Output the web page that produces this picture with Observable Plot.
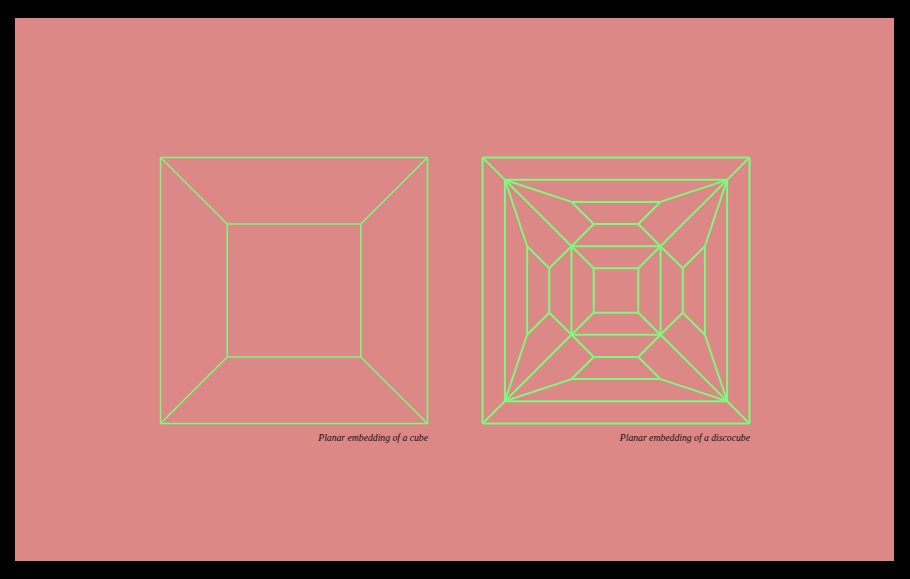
<!DOCTYPE html>
<html>
<head>
<meta charset="utf-8">
<script src="https://cdn.jsdelivr.net/npm/d3@7"></script>
<script src="https://cdn.jsdelivr.net/npm/@observablehq/plot@0.6"></script>
<style>
  html, body { margin: 0; padding: 0; background: #000; width: 910px; height: 579px; overflow: hidden; }
  #chart { position: absolute; left: 14.5px; top: 18px; width: 879px; height: 543px; }
</style>
</head>
<body>
<div id="chart"></div>
<script>
// Graph names and captions
const graphs = ["cube", "discocube"];
const captions = ["Planar embedding of a cube", "Planar embedding of a discocube"];

// Cube vertices (unit coordinates) and edges
const cubeVertices = [
  [-1, -1], [1, -1], [1, 1], [-1, 1],
  [-0.5, -0.5], [0.5, -0.5], [0.5, 0.5], [-0.5, 0.5]
];
const cubeEdges = [
  [0, 1], [1, 2], [2, 3], [3, 0],
  [4, 5], [5, 6], [6, 7], [7, 4],
  [0, 4], [1, 5], [2, 6], [3, 7]
];

// Discocube vertices (unit coordinates) and edges
const discoVertices = [
  [-1, 1], [1, 1], [1, -1], [-1, -1],                       // 0-3 outer
  [-0.832, 0.832], [0.832, 0.832], [0.832, -0.832], [-0.832, -0.832], // 4-7 second
  [-0.333, 0.333], [0.333, 0.333], [0.333, -0.333], [-0.333, -0.333], // 8-11 middle
  [-0.167, 0.167], [0.167, 0.167], [0.167, -0.167], [-0.167, -0.167], // 12-15 inner
  [-0.333, 0.666], [0.333, 0.666], [-0.167, 0.5], [0.167, 0.5],       // 16-19 top trapezoid
  [0.666, 0.333], [0.666, -0.333], [0.5, 0.167], [0.5, -0.167],       // 20-23 right trapezoid
  [0.333, -0.666], [-0.333, -0.666], [0.167, -0.5], [-0.167, -0.5],   // 24-27 bottom trapezoid
  [-0.666, -0.333], [-0.666, 0.333], [-0.5, -0.167], [-0.5, 0.167]    // 28-31 left trapezoid
];
const discoEdges = [
  [0, 1], [1, 2], [2, 3], [3, 0],
  [0, 4], [1, 5], [2, 6], [3, 7],
  [4, 5], [5, 6], [6, 7], [7, 4],
  [4, 8], [5, 9], [6, 10], [7, 11],
  [8, 9], [9, 10], [10, 11], [11, 8],
  [8, 12], [9, 13], [10, 14], [11, 15],
  [12, 13], [13, 14], [14, 15], [15, 12],
  [16, 17], [16, 18], [17, 19], [18, 19], [4, 16], [5, 17], [18, 8], [19, 9],
  [20, 21], [20, 22], [21, 23], [22, 23], [5, 20], [6, 21], [22, 9], [23, 10],
  [24, 25], [24, 26], [25, 27], [26, 27], [6, 24], [7, 25], [26, 10], [27, 11],
  [28, 29], [28, 30], [29, 31], [30, 31], [7, 28], [4, 29], [30, 11], [31, 8]
];

function toSegments(graph, vertices, edges) {
  return edges.map(([a, b]) => ({
    graph,
    x1: vertices[a][0], y1: vertices[a][1],
    x2: vertices[b][0], y2: vertices[b][1]
  }));
}

const segments = [
  ...toSegments(graphs[0], cubeVertices, cubeEdges),
  ...toSegments(graphs[1], discoVertices, discoEdges)
];
const captionData = graphs.map((g, i) => ({graph: g, text: captions[i], x: 1, y: -1}));

const chart = Plot.plot({
  width: 879,
  height: 543,
  marginLeft: 144.5,
  marginRight: 145.5,
  marginTop: 139,
  marginBottom: 138,
  style: {background: "#dc8886", overflow: "visible"},
  fx: {domain: graphs, axis: null, paddingInner: 0.171, paddingOuter: 0},
  x: {domain: [-1, 1], axis: null},
  y: {domain: [-1, 1], axis: null},
  marks: [
    Plot.link(segments.filter(d => d.graph === "cube"), {
      fx: "graph", x1: "x1", y1: "y1", x2: "x2", y2: "y2",
      stroke: "#7dfb7d", strokeWidth: 1.5
    }),
    Plot.link(segments.filter(d => d.graph === "discocube"), {
      fx: "graph", x1: "x1", y1: "y1", x2: "x2", y2: "y2",
      stroke: "#7dfb7d", strokeWidth: 2
    }),
    Plot.text(captionData, {
      fx: "graph", x: "x", y: "y", text: "text",
      textAnchor: "end", dx: 0.5, dy: 14.5,
      fontFamily: "Liberation Serif", fontStyle: "italic", fontSize: 9.7,
      fill: "#111"
    })
  ]
});
document.getElementById("chart").appendChild(chart);
</script>
</body>
</html>
